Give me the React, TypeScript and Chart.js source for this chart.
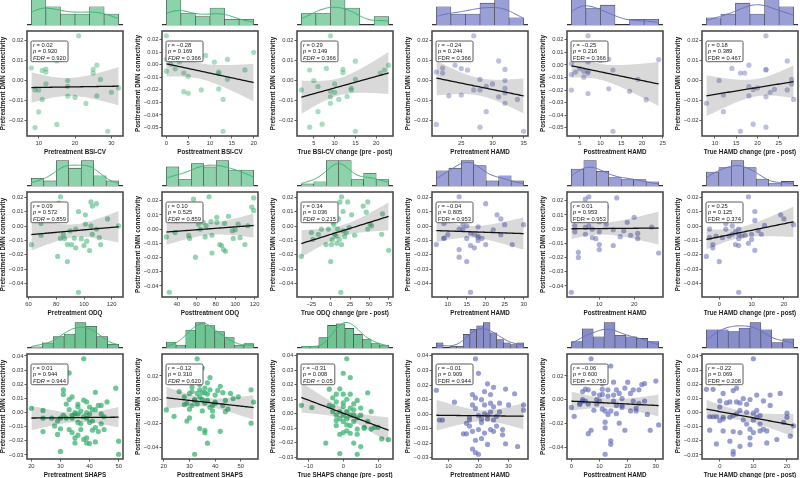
import React, { useEffect, useRef } from "react";
import { Chart, registerables } from "chart.js";

Chart.register(...registerables);

const FONT = '"Liberation Sans", Arial, Helvetica, sans-serif';
Chart.defaults.font.family = FONT;

// ---------- BSI-CV cohort ----------
const bsiPreX = [21, 8, 11, 12, 12, 15, 26, 25, 25, 27, 18, 18, 18, 12, 9, 10, 11, 20, 23, 10, 26, 30, 32, 9, 15, 29];
const bsiPreY = [0.0222, 0.0062, 0.005, 0.0057, 0.0042, 0.0097, 0.0076, 0.0055, 0.0037, 0.0005, 0.0, -0.0029, -0.0077, -0.0017, -0.0047, -0.0047, -0.0094, -0.0084, -0.0114, -0.0156, -0.0076, -0.0059, -0.0037, -0.0234, -0.0218, -0.0252];
const bsiPreHist = [7, 5, 3, 3, 5, 3];

const bsiPostX = [0, 0, 1, 2, 3, 4, 5, 4, 5, 8, 11, 12, 12, 12, 13, 13, 14, 14, 18, 20, 0, 1, 2, 3, 7, 9];
const bsiPostY = [0.0232, -0.0051, 0.0005, -0.0032, 0.0024, -0.0065, -0.0092, -0.0214, -0.0227, -0.02, 0.0022, -0.0057, -0.007, -0.0192, -0.0276, -0.053, 0.0043, -0.0116, -0.0041, 0.01, 0.0045, 0.009, 0.013, 0.006, 0.011, 0.0075];
const bsiPostHist = [9, 4, 3, 6, 2, 2];

const bsiChangeX = [9, 2, 4, 4, 5, 6, 6, 7, 8, 9, 9, 9, 10, 10, 11, 12, 12, 13, 14, 15, 15, 15, 21, 22, 23, 14];
const bsiChangeY = [0.0222, -0.0047, 0.0052, -0.0232, 0.0, -0.003, -0.0155, -0.0217, 0.006, -0.0054, -0.0081, -0.0113, -0.0017, -0.0059, -0.0094, 0.0055, 0.0039, -0.0079, -0.0039, 0.0096, 0.0005, -0.0252, 0.0037, 0.0052, 0.0076, -0.0047];
const bsiChangeHist = [4, 4, 9, 6, 0, 3];

const hamdBsiPreX = [27, 21, 21, 22, 22, 23, 24, 25, 25, 26, 27, 28, 28, 28, 29, 29, 30, 31, 31, 32, 32, 32, 32, 32, 34, 35];
const hamdBsiPreY = [0.0222, 0.0042, -0.0218, 0.0062, 0.0037, -0.0076, 0.0076, 0.0059, -0.0072, 0.0052, -0.0047, 0.0005, -0.0047, -0.0232, -0.0029, -0.0155, -0.0017, 0.0097, -0.0081, 0.0055, 0.0, -0.0039, -0.0062, -0.0113, -0.0094, -0.0252];
const hamdBsiPreHist = [5, 3, 3, 6, 7, 2];

const hamdBsiPostX = [7, 3, 3, 3, 4, 5, 6, 6, 7, 7, 7, 7, 10, 11, 12, 13, 13, 17, 19, 21, 24, 4, 6, 8, 12, 10];
const hamdBsiPostY = [0.0232, 0.0011, -0.0076, -0.02, -0.0057, -0.003, -0.0051, -0.0097, 0.0024, -0.005, -0.0065, -0.0227, 0.0095, 0.013, -0.019, -0.004, -0.0527, -0.021, -0.0114, -0.0276, 0.0043, 0.0065, 0.012, 0.009, 0.0045, 0.0035];
const hamdBsiPostHist = [9, 6, 7, 0, 2, 2];

const hamdBsiChangeX = [8, 11, 12, 12, 14, 16, 17, 16, 18, 18, 18, 19, 19, 20, 22, 22, 22, 22, 22, 23, 27, 27, 28, 28, 28.5, 24];
const hamdBsiChangeY = [-0.0113, 0.0, -0.0072, -0.0155, 0.006, 0.0037, 0.0037, -0.0252, 0.0076, -0.003, -0.0076, -0.0045, -0.0217, -0.0037, 0.0222, 0.0055, 0.0052, -0.0081, -0.0232, -0.0059, 0.0097, -0.0047, 0.0005, -0.0017, -0.0094, -0.0044];
const hamdBsiChangeHist = [2, 3, 6, 3, 7, 5];

// ---------- ODQ cohort ----------
const odqPreX = [62, 69, 69, 81, 83, 83, 85, 86, 88, 88, 90, 91, 94, 94, 96, 96, 98, 100, 101, 101, 104, 105, 105, 106, 106, 109, 109, 111, 112, 117, 125, 74, 77, 82, 84, 86, 93, 102];
const odqPreY = [-0.0129, 0.0019, -0.0064, -0.0212, 0.0205, -0.0086, -0.0057, -0.0086, -0.0248, -0.0129, -0.0033, -0.0129, -0.0021, -0.0152, 0.0102, -0.0462, -0.0088, -0.0136, 0.0079, 0.0014, -0.0171, 0.0169, 0.0002, -0.0057, 0.014, 0.0157, -0.0021, -0.0081, -0.0129, 0.005, 0.0002, 0.009, 0.012, 0.016, 0.006, 0.011, -0.0085, -0.0105];
const odqPreHist = [3, 2, 10, 7, 10, 4, 2];

const odqPostX = [29, 32, 38, 52, 53, 57, 59, 62, 64, 67, 69, 70, 73, 75, 76, 76, 81, 81, 84, 86, 88, 90, 89, 93, 97, 100, 105, 110, 113, 117, 119, 119, 33, 36, 40, 58, 61, 98, 103];
const odqPostY = [-0.0055, -0.0444, -0.0024, -0.0043, -0.0065, 0.0211, -0.0197, 0.0036, 0.0, 0.0048, -0.0055, 0.0024, 0.0228, 0.0053, -0.0043, -0.0168, 0.0048, 0.0084, -0.0108, -0.0115, -0.0144, -0.0156, 0.0041, 0.0091, -0.0012, -0.0005, -0.006, -0.0108, 0.0024, 0.0156, 0.022, 0.0132, 0.009, 0.015, 0.006, 0.011, 0.017, -0.0065, 0.0035];
const odqPostHist = [6, 2, 7, 6, 8, 5, 5];

const odqChangeX = [-38, -25, -23, -16, -12, -6, -3, 0, 1, 3, 5, 7, 9, 11, 12, 13, 14, 14, 16, 16, 18, 22, 27, 31, 42, 46, 48, 48, 51, 53, 66, 67, 75, 2, 4, 8, 10, 20, 24];
const odqChangeY = [-0.0212, -0.0045, -0.0093, -0.0057, -0.0021, -0.0129, -0.0021, -0.0248, -0.0129, 0.0026, -0.0057, -0.0069, -0.0021, -0.0093, 0.0169, -0.0462, 0.0205, -0.0129, 0.0102, -0.0033, -0.0074, 0.0169, 0.0079, -0.0064, 0.014, 0.0098, 0.0169, -0.0021, 0.0014, 0.0002, -0.0057, 0.0086, -0.0169, -0.0095, 0.001, -0.012, 0.005, -0.0045, -0.001];
const odqChangeHist = [1, 2, 12, 12, 3, 6, 3];

const hamdOdqPreX = [7, 9, 9, 9, 13, 13, 13, 13, 14, 14, 15, 15, 15, 16, 16, 16, 17, 17, 18, 18, 18, 19, 20, 20, 22, 23, 24, 27, 30, 8, 11, 12, 12, 14, 16, 18, 24, 25, 10];
const hamdOdqPreY = [-0.0129, 0.0019, -0.0086, -0.0083, 0.0205, -0.0021, -0.0164, -0.0217, -0.0021, 0.0014, 0.0002, -0.0086, -0.0248, -0.005, -0.0136, -0.0462, -0.0057, -0.0152, -0.0069, -0.0005, -0.0081, -0.0086, 0.0157, -0.0129, -0.0026, 0.0079, 0.005, -0.0129, 0.001, 0.01, 0.012, 0.006, 0.0155, 0.009, 0.004, -0.01, -0.006, 0.001, -0.006];
const hamdOdqPreHist = [6, 7, 10, 8, 2, 4, 2];

const hamdOdqPostX = [2, 3, 3, 4, 4, 6, 6, 6, 7, 7, 8, 8, 9, 10, 10, 10, 11, 12, 14, 14, 15, 16, 17, 18, 19, 20, 21, 27, 3, 4, 5, 6, 7, 8, 9, 10, 12, 21, 25];
const hamdOdqPostY = [-0.0444, 0.0024, -0.0019, -0.0163, -0.0199, 0.0012, -0.0036, 0.0211, 0.0024, 0.0228, -0.006, 0.0, -0.0067, -0.0019, -0.0108, -0.0144, 0.0084, 0.0156, -0.0005, -0.0115, 0.022, -0.0053, -0.0012, 0.0048, -0.0043, 0.0084, -0.0067, -0.0168, 0.008, 0.012, 0.0065, 0.0095, 0.0135, 0.0065, 0.017, 0.0053, 0.0035, -0.003, 0.0015];
const hamdOdqPostHist = [8, 12, 7, 4, 3, 3, 2];

const hamdOdqChangeX = [-4, -3, -3, -2, -2, -1, 0, 1, 2, 2, 3, 4, 4, 5, 5, 6, 6, 6, 6, 6, 6, 7, 8, 9, 10, 10, 11, 11, 13, 19, 20, 23, 0, 1, 3, 9, 11, 12, 14];
const hamdOdqChangeY = [-0.0212, -0.0081, -0.0021, -0.0129, -0.0152, -0.0069, -0.0248, -0.0081, -0.0021, 0.0019, -0.0069, -0.0057, 0.0002, -0.004, -0.0129, -0.0021, -0.0057, -0.0088, -0.0136, -0.0462, 0.0098, -0.0069, -0.0064, 0.0205, -0.0093, -0.0057, 0.0102, -0.0169, -0.0057, 0.0079, 0.005, 0.001, 0.009, 0.014, 0.006, -0.012, 0.004, -0.003, 0.0005];
const hamdOdqChangeHist = [6, 8, 11, 8, 3, 1, 2];

// ---------- SHAPS cohort ----------
const shapsPreX = [20, 24, 24, 24, 27, 30, 30, 31, 31, 32, 32, 33, 33, 33, 33, 34, 34, 34, 34, 35, 35, 35, 35, 36, 36, 36, 36, 36, 37, 37, 37, 38, 38, 38, 38, 39, 39, 39, 39, 39, 40, 40, 40, 40, 41, 41, 41, 42, 42, 42, 42, 43, 43, 44, 44, 44, 45, 45, 46, 49, 50, 50, 28, 29, 29, 30, 31];
const shapsPreY = [0.003, 0.0015, -0.004, -0.0135, -0.004, -0.0275, -0.004, 0.0128, 0.016, -0.004, 0.006, 0.028, 0.0092, -0.012, 0.002, 0.011, -0.004, -0.0142, -0.002, -0.0215, -0.018, -0.001, 0.0, -0.007, 0.0058, -0.001, 0.004, -0.016, -0.012, -0.008, 0.001, -0.019, 0.038, 0.0087, -0.003, -0.004, 0.0075, -0.0215, -0.018, 0.0, 0.0039, -0.001, -0.007, -0.022, -0.0125, -0.006, 0.002, -0.0106, 0.002, 0.0143, -0.0208, -0.0135, 0.005, -0.001, 0.005, -0.008, -0.012, -0.003, 0.0075, 0.0172, -0.0203, -0.0295, -0.0095, -0.006, -0.0155, -0.0115, -0.002];
const shapsPreHist = [1, 4, 9, 11, 20, 17, 9, 3];

const shapsPostX = [21, 24, 26, 28, 28, 29, 29, 30, 30, 30, 31, 31, 31, 32, 32, 32, 33, 33, 33, 34, 34, 34, 34, 35, 35, 35, 35, 36, 36, 36, 36, 36, 37, 37, 37, 37, 38, 38, 38, 39, 39, 39, 40, 40, 40, 41, 42, 42, 43, 43, 44, 44, 45, 46, 47, 49, 54, 54, 55];
const shapsPostY = [-0.0086, -0.014, 0.0068, -0.0041, 0.0024, -0.018, -0.003, -0.008, 0.0053, -0.0154, -0.005, 0.0107, 0.0068, -0.0006, 0.0, -0.046, 0.0345, 0.0053, -0.0036, 0.0127, -0.0243, 0.0024, 0.0083, 0.0267, 0.0059, 0.0, -0.0095, 0.0098, -0.0279, -0.0258, 0.0059, -0.003, -0.0367, 0.0142, -0.0006, 0.0047, -0.0065, 0.0187, 0.0083, -0.0095, -0.005, -0.014, -0.003, -0.002, 0.0039, 0.0077, -0.0267, 0.0113, 0.0059, -0.005, -0.0006, -0.0101, -0.008, 0.0053, 0.0009, 0.0024, 0.0083, -0.0198, -0.002];
const shapsPostHist = [4, 2, 12, 17, 15, 11, 7, 2, 3];

const shapsChangeX = [-12, -9, -5, -4, -4, -3, -3, -3, -2, -2, -2, -2, -2, -1, -1, -1, -1, -1, 0, 0, 0, 0, 0, 0, 0, 1, 1, 1, 1, 1, 1, 2, 2, 2, 2, 2, 2, 3, 3, 3, 3, 3, 4, 4, 4, 4, 4, 5, 5, 5, 6, 6, 7, 7, 8, 8, 9, 10, 11, 13];
const shapsChangeY = [0.0058, 0.0043, -0.0203, 0.017, 0.0058, 0.011, 0.0015, 0.005, 0.0135, -0.001, -0.0046, 0.0082, -0.0082, 0.0015, -0.0034, 0.0172, -0.0142, -0.0275, 0.0135, 0.005, -0.013, -0.001, -0.0053, 0.028, 0.0075, -0.0077, 0.0015, 0.038, -0.0034, 0.01, -0.0118, 0.025, -0.001, 0.0135, 0.0039, -0.0082, -0.0135, -0.001, 0.0068, -0.0053, 0.0027, -0.0203, -0.0029, 0.0092, -0.028, -0.0106, -0.0142, 0.0039, -0.001, -0.0227, -0.0101, -0.0094, 0.0145, -0.0053, 0.0015, -0.0106, -0.0094, -0.0094, -0.0174, -0.0178];
const shapsChangeHist = [1, 1, 7, 15, 16, 13, 9, 6, 3, 2];

const hamdShapsPreX = [6, 7, 8, 12, 15, 16, 16, 17, 17, 17, 18, 18, 18, 18, 19, 19, 19, 19, 19, 20, 20, 20, 20, 21, 21, 21, 21, 22, 22, 22, 22, 23, 23, 23, 23, 24, 24, 24, 24, 25, 25, 25, 25, 26, 26, 27, 27, 28, 28, 29, 29, 30, 32, 33, 35, 35];
const hamdShapsPreY = [0.0164, -0.004, -0.004, 0.0082, -0.0135, -0.0135, -0.0063, -0.004, -0.0022, -0.0082, -0.0118, 0.0135, 0.0063, -0.0239, 0.0111, 0.038, -0.0179, 0.0039, -0.0263, 0.028, -0.0275, -0.001, -0.0106, -0.0034, 0.0099, -0.0167, -0.0058, 0.0002, -0.013, 0.0155, 0.0063, -0.001, 0.0208, -0.0208, -0.0034, 0.0075, -0.0106, 0.0015, 0.0135, -0.004, 0.0184, 0.005, -0.0118, -0.0082, -0.0015, 0.0015, 0.0075, -0.0106, -0.0142, 0.0172, -0.0203, 0.0063, 0.014, -0.0222, 0.0063, 0.0027];
const hamdShapsPreHist = [3, 0, 1, 1, 8, 11, 13, 15, 9, 5, 3, 2, 3];

const hamdShapsPostX = [0, 1, 3, 3, 4, 4, 4, 5, 5, 6, 6, 6, 7, 7, 8, 8, 9, 9, 10, 10, 10, 11, 11, 11, 11, 12, 12, 12, 12, 13, 13, 13, 14, 14, 14, 14, 15, 15, 15, 16, 16, 16, 17, 17, 18, 18, 18, 19, 19, 20, 21, 21, 22, 22, 23, 23, 24, 24, 25, 26, 26, 27, 28, 30, 31];
const hamdShapsPostY = [-0.0065, -0.014, -0.003, -0.004, 0.0068, -0.0012, 0.0, 0.0089, -0.0012, -0.0036, -0.0287, 0.0083, -0.0258, 0.0345, -0.0089, 0.0053, -0.0036, 0.0, 0.0039, 0.0207, -0.0012, -0.008, 0.0089, 0.0136, 0.0044, -0.0095, -0.046, -0.019, -0.0237, -0.0124, 0.003, 0.0083, -0.0347, -0.0095, 0.0284, -0.0376, -0.0012, 0.0039, 0.0148, -0.005, 0.0083, -0.0118, 0.0053, -0.0198, -0.0065, -0.005, 0.0009, -0.0258, 0.0098, 0.0148, -0.0095, 0.0053, 0.0083, -0.0012, -0.0071, -0.0095, 0.0083, -0.003, 0.0127, 0.0136, -0.0012, -0.0124, -0.0258, 0.0157, -0.0213];
const hamdShapsPostHist = [4, 12, 7, 16, 8, 7, 6, 4];

const hamdShapsChangeX = [-4, -3, -3, -2, -2, -1, -1, 0, 0, 0, 0, 1, 1, 1, 1, 2, 3, 3, 3, 4, 4, 4, 4, 4, 5, 5, 5, 6, 6, 6, 6, 7, 7, 8, 8, 8, 9, 9, 9, 9, 10, 10, 10, 10, 11, 11, 11, 12, 12, 12, 13, 13, 14, 14, 15, 15, 17, 18, 19, 20, 20, 21, 22];
const hamdShapsChangeY = [0.0164, -0.0125, -0.003, 0.0164, -0.003, -0.0222, -0.003, 0.0082, 0.0208, -0.0058, 0.0039, 0.0135, -0.0034, -0.0046, -0.013, 0.0068, -0.0034, -0.0203, 0.0075, 0.0155, -0.0275, -0.0295, -0.0135, -0.0022, 0.0075, -0.001, 0.0172, 0.0068, -0.0142, -0.0239, 0.0015, 0.0099, -0.0053, 0.0002, 0.0058, -0.0082, -0.0179, -0.0118, -0.0227, 0.0092, -0.0053, -0.0005, 0.038, -0.0142, -0.0034, 0.0015, 0.0123, -0.013, -0.0022, -0.0082, 0.0082, -0.0118, -0.013, -0.0215, 0.005, 0.0123, -0.0191, 0.0135, -0.007, -0.0005, -0.0034, -0.0167, -0.0094];
const hamdShapsChangeHist = [10, 10, 9, 11, 14, 10, 3, 5];

// ---------- labels and statistics ----------
const xTitles = [
  "Pretreatment BSI-CV", "Posttreatment BSI-CV", "True BSI-CV change (pre - post)",
  "Pretreatment HAMD", "Posttreatment HAMD", "True HAMD change (pre - post)",
  "Pretreatment ODQ", "Posttreatment ODQ", "True ODQ change (pre - post)",
  "Pretreatment HAMD", "Posttreatment HAMD", "True HAMD change (pre - post)",
  "Pretreatment SHAPS", "Posttreatment SHAPS", "True SHAPS change (pre - post)",
  "Pretreatment HAMD", "Posttreatment HAMD", "True HAMD change (pre - post)",
];
const PRE = "Pretreatment DMN connectivity";
const POST = "Posttreatment DMN connectivity";
const yTitles = [PRE, POST, PRE, PRE, POST, PRE, PRE, POST, PRE, PRE, POST, PRE, PRE, POST, PRE, PRE, POST, PRE];
const statR = ["0.02", "-0.28", "0.29", "-0.24", "-0.25", "0.18", "0.09", "0.10", "0.34", "-0.04", "0.01", "0.25", "0.01", "-0.12", "-0.31", "-0.01", "-0.06", "-0.22"];
const statP = ["0.920", "0.169", "0.149", "0.244", "0.216", "0.389", "0.572", "0.525", "0.036", "0.805", "0.953", "0.125", "0.944", "0.310", "0.008", "0.909", "0.600", "0.069"];
const statFdr = ["0.920", "0.366", "0.366", "0.366", "0.366", "0.467", "0.859", "0.859", "0.215", "0.953", "0.953", "0.374", "0.944", "0.620", "< 0.05", "0.944", "0.750", "0.208"];
const xTickSteps = [10, 5, 5, 5, 5, 5, 20, 20, 25, 5, 10, 10, 10, 10, 10, 10, 10, 10];
const yTickSteps = [0.01, 0.01, 0.01, 0.01, 0.01, 0.01, 0.01, 0.01, 0.01, 0.01, 0.01, 0.01, 0.01, 0.02, 0.01, 0.01, 0.02, 0.01];

const panelData: [number[], number[], number[]][] = [
  [bsiPreX, bsiPreY, bsiPreHist], [bsiPostX, bsiPostY, bsiPostHist], [bsiChangeX, bsiChangeY, bsiChangeHist],
  [hamdBsiPreX, hamdBsiPreY, hamdBsiPreHist], [hamdBsiPostX, hamdBsiPostY, hamdBsiPostHist], [hamdBsiChangeX, hamdBsiChangeY, hamdBsiChangeHist],
  [odqPreX, odqPreY, odqPreHist], [odqPostX, odqPostY, odqPostHist], [odqChangeX, odqChangeY, odqChangeHist],
  [hamdOdqPreX, hamdOdqPreY, hamdOdqPreHist], [hamdOdqPostX, hamdOdqPostY, hamdOdqPostHist], [hamdOdqChangeX, hamdOdqChangeY, hamdOdqChangeHist],
  [shapsPreX, shapsPreY, shapsPreHist], [shapsPostX, shapsPostY, shapsPostHist], [shapsChangeX, shapsChangeY, shapsChangeHist],
  [hamdShapsPreX, hamdShapsPreY, hamdShapsPreHist], [hamdShapsPostX, hamdShapsPostY, hamdShapsPostHist], [hamdShapsChangeX, hamdShapsChangeY, hamdShapsChangeHist],
];

// ---------- layout ----------
const BOX_LEFT = [27, 162, 297, 432, 567, 702];
const BOX_TOP = [31, 192, 354];
const BOX_W = 96;
const BOX_H = 105;
const AXIS_W = 27;
const X_AXIS_H = 22;
const SC_W = 135;
const SC_H = 4 + BOX_H + X_AXIS_H;
const HIST_H = 28;

const GREEN = [60, 179, 113];
const PURPLE = [104, 112, 188];
const POINT_ALPHA_GREEN = [0.45, 0.55, 0.75];
const POINT_ALPHA_PURPLE = [0.45, 0.55, 0.68];
const HIST_FILL_GREEN = ["rgb(140,210,170)", "rgb(140,210,170)", "rgb(112,196,148)"];
const HIST_FILL_PURPLE = ["rgb(154,160,213)", "rgb(154,160,213)", "rgb(136,142,202)"];

const mean = (a: number[]) => a.reduce((s, v) => s + v, 0) / a.length;
const sdev = (a: number[]) => {
  const m = mean(a);
  return Math.sqrt(a.reduce((s, v) => s + (v - m) ** 2, 0) / (a.length - 1));
};

// Least-squares fit expressed through the reported Pearson r:
// slope = r * sy / sx, through the means, with a 95% confidence band.
function fitFromR(xs: number[], ys: number[], r: number) {
  const n = xs.length;
  const mx = mean(xs);
  const my = mean(ys);
  const sx = sdev(xs);
  const sy = sdev(ys);
  const b = (r * sy) / sx;
  const a = my - b * mx;
  const sxx = (n - 1) * sx * sx;
  const s = sy * Math.sqrt(1 - r * r) * Math.sqrt((n - 1) / (n - 2));
  const t = 1.96 + 2.4 / (n - 2);
  const lo = Math.min(...xs);
  const hi = Math.max(...xs);
  const line: { x: number; y: number }[] = [];
  const upper: { x: number; y: number }[] = [];
  const lower: { x: number; y: number }[] = [];
  for (let k = 0; k <= 60; k++) {
    const x = lo + ((hi - lo) * k) / 60;
    const yh = a + b * x;
    const se = s * Math.sqrt(1 / n + (x - mx) ** 2 / sxx);
    line.push({ x, y: yh });
    upper.push({ x, y: yh + t * se });
    lower.push({ x, y: yh - t * se });
  }
  return { line, upper, lower };
}

function kdeCurve(xs: number[], lo: number, hi: number, scale: number) {
  const n = xs.length;
  const bw = sdev(xs) * Math.pow(n, -0.2);
  const pts: { x: number; y: number }[] = [];
  for (let k = 0; k <= 80; k++) {
    const x = lo + ((hi - lo) * k) / 80;
    let d = 0;
    for (const v of xs) d += Math.exp(-0.5 * ((x - v) / bw) ** 2);
    d /= n * bw * Math.sqrt(2 * Math.PI);
    pts.push({ x, y: d * scale });
  }
  return pts;
}

function stepTicks(min: number, max: number, step: number) {
  const out: { value: number }[] = [];
  const k0 = Math.ceil(min / step - 1e-9);
  const k1 = Math.floor(max / step + 1e-9);
  for (let k = k0; k <= k1; k++) out.push({ value: +(k * step).toFixed(6) });
  return out;
}

const minus = (s: string) => s.replace("-", "\u2212");
const fmtY = (v: number) => {
  const n = Math.abs(v) < 1e-9 ? 0 : v;
  const s = Math.abs(n).toFixed(2);
  return n < 0 ? "\u2212" + s : s;
};
const fmtX = (v: number) => (v < 0 ? "\u2212" + Math.abs(v) : String(v));

const framePlugin = {
  id: "frame",
  afterDatasetsDraw(chart: any) {
    const { ctx, chartArea: a } = chart;
    ctx.save();
    ctx.strokeStyle = "#4d4d4d";
    ctx.lineWidth = 1.6;
    ctx.strokeRect(a.left, a.top, a.right - a.left, a.bottom - a.top);
    ctx.restore();
  },
};

type Seg = { t: string; it: boolean };

function statBox(lines: Seg[][]) {
  return {
    id: "statBox",
    afterDraw(chart: any) {
      const { ctx, chartArea: a } = chart;
      const fs = 5.8;
      const lh = 6.5;
      const fontOf = (it: boolean) => `${it ? "italic " : ""}${fs}px ${FONT}`;
      ctx.save();
      let maxW = 0;
      for (const line of lines) {
        let w = 0;
        for (const seg of line) {
          ctx.font = fontOf(seg.it);
          w += ctx.measureText(seg.t).width;
        }
        maxW = Math.max(maxW, w);
      }
      const x0 = a.left + 4;
      const y0 = a.top + 10;
      const w = maxW + 4;
      const h = lh * 3 + 1.2;
      const r = 1.6;
      ctx.beginPath();
      ctx.moveTo(x0 + r, y0);
      ctx.lineTo(x0 + w - r, y0);
      ctx.quadraticCurveTo(x0 + w, y0, x0 + w, y0 + r);
      ctx.lineTo(x0 + w, y0 + h - r);
      ctx.quadraticCurveTo(x0 + w, y0 + h, x0 + w - r, y0 + h);
      ctx.lineTo(x0 + r, y0 + h);
      ctx.quadraticCurveTo(x0, y0 + h, x0, y0 + h - r);
      ctx.lineTo(x0, y0 + r);
      ctx.quadraticCurveTo(x0, y0, x0 + r, y0);
      ctx.closePath();
      ctx.fillStyle = "#ffffff";
      ctx.fill();
      ctx.strokeStyle = "#333333";
      ctx.lineWidth = 0.8;
      ctx.stroke();
      ctx.fillStyle = "#222222";
      ctx.textBaseline = "middle";
      ctx.textAlign = "left";
      lines.forEach((line, i) => {
        let x = x0 + 2;
        const y = y0 + 3.9 + lh * i;
        for (const seg of line) {
          ctx.font = fontOf(seg.it);
          ctx.fillText(seg.t, x, y);
          x += ctx.measureText(seg.t).width;
        }
      });
      ctx.restore();
    },
  };
}

function Panel({ idx }: { idx: number }) {
  const histRef = useRef<HTMLCanvasElement>(null);
  const scatRef = useRef<HTMLCanvasElement>(null);
  const row = Math.floor(idx / 6);
  const col = idx % 6;
  const left = BOX_LEFT[col];
  const top = BOX_TOP[row];

  useEffect(() => {
    const [xs, ys, hist] = panelData[idx];
    const isGreen = col < 3;
    const rgb = (isGreen ? GREEN : PURPLE).join(",");
    const alpha = isGreen ? POINT_ALPHA_GREEN[row] : POINT_ALPHA_PURPLE[row];
    const xLo = Math.min(...xs);
    const xHi = Math.max(...xs);
    const yLo = Math.min(...ys);
    const yHi = Math.max(...ys);
    const xMin = xLo - (xHi - xLo) * 0.05;
    const xMax = xHi + (xHi - xLo) * 0.05;
    const yMin = yLo - (yHi - yLo) * 0.05;
    const yMax = yHi + (yHi - yLo) * 0.05;

    // marginal histogram with density curve
    const binW = (xHi - xLo) / hist.length;
    const bars = hist.map((c, i) => ({ x: xLo + (i + 0.5) * binW, y: c }));
    const total = hist.reduce((s, v) => s + v, 0);
    const kde = kdeCurve(xs, xLo, xHi, total * binW);
    const histTop = Math.max(Math.max(...hist), ...kde.map((p) => p.y)) * 1.02;

    const histChart = new Chart(histRef.current as HTMLCanvasElement, {
      type: "bar",
      data: {
        datasets: [
          {
            type: "line",
            data: kde,
            borderColor: `rgb(${rgb})`,
            borderWidth: 1,
            pointRadius: 0,
            fill: false,
            order: 0,
          } as any,
          {
            type: "bar",
            data: bars,
            backgroundColor: isGreen ? HIST_FILL_GREEN[row] : HIST_FILL_PURPLE[row],
            borderColor: "#3d3d3d",
            borderWidth: 0.6,
            borderSkipped: "start",
            barPercentage: 1,
            categoryPercentage: 1,
            grouped: false,
            order: 1,
          } as any,
        ],
      },
      options: {
        responsive: false,
        animation: false,
        events: [],
        layout: { padding: 0 },
        plugins: { legend: { display: false }, tooltip: { enabled: false } },
        scales: {
          x: {
            type: "linear",
            min: xMin,
            max: xMax,
            offset: false,
            ticks: { display: false },
            grid: { display: false, offset: false },
            border: { display: true, color: "#333333", width: 1.2 },
            afterFit: (s: any) => {
              s.height = 2;
              s.paddingLeft = 0;
              s.paddingRight = 0;
            },
          },
          y: { display: false, min: 0, max: histTop },
        },
      } as any,
    });

    // scatter with regression fit
    const fit = fitFromR(xs, ys, parseFloat(statR[idx]));
    const points = xs.map((x, i) => ({ x, y: ys[i] }));
    const fdr = statFdr[idx];
    const lines: Seg[][] = [
      [{ t: "r", it: true }, { t: " = " + minus(statR[idx]), it: false }],
      [{ t: "p", it: true }, { t: " = " + statP[idx], it: false }],
      [{ t: "FDR", it: isGreen }, { t: fdr.startsWith("<") ? " " + fdr : " = " + fdr, it: false }],
    ];
    const tickFont = { size: 5.8, family: FONT };
    const titleFont = { size: 6.3, weight: "bold", family: FONT, lineHeight: 1 };
    const gridOpts = {
      display: true,
      drawOnChartArea: false,
      drawTicks: true,
      tickLength: 2.5,
      tickWidth: 0.8,
      tickColor: "#333333",
    };

    const scatChart = new Chart(scatRef.current as HTMLCanvasElement, {
      type: "line",
      data: {
        datasets: [
          { data: fit.line, borderColor: "#111111", borderWidth: 1.3, pointRadius: 0, fill: false, order: 0 },
          { data: fit.lower, borderColor: "rgba(0,0,0,0)", borderWidth: 0, pointRadius: 0, fill: false, order: 1 },
          {
            data: fit.upper,
            borderColor: "rgba(0,0,0,0)",
            borderWidth: 0,
            pointRadius: 0,
            fill: "-1",
            backgroundColor: "rgba(0,0,0,0.15)",
            order: 1,
          },
          {
            data: points,
            showLine: false,
            pointRadius: 2.6,
            pointBorderWidth: 0,
            pointBorderColor: "rgba(0,0,0,0)",
            pointBackgroundColor: `rgba(${rgb},${alpha})`,
            order: 2,
          },
        ],
      },
      options: {
        responsive: false,
        animation: false,
        events: [],
        layout: { padding: { left: 0, top: 4, right: SC_W - AXIS_W - BOX_W, bottom: 0 } },
        plugins: { legend: { display: false }, tooltip: { enabled: false } },
        scales: {
          x: {
            type: "linear",
            min: xMin,
            max: xMax,
            afterBuildTicks: (s: any) => {
              s.ticks = stepTicks(xMin, xMax, xTickSteps[idx]);
            },
            afterFit: (s: any) => {
              s.height = X_AXIS_H;
              s.paddingLeft = 0;
              s.paddingRight = 0;
            },
            ticks: {
              font: tickFont,
              color: "#333333",
              padding: 1,
              autoSkip: false,
              maxRotation: 0,
              callback: (v: any) => fmtX(Number(v)),
            },
            grid: gridOpts,
            border: { display: false },
            title: {
              display: true,
              text: xTitles[idx],
              font: titleFont,
              color: "#1a1a1a",
              padding: { top: 0, bottom: 2.2 },
            },
          },
          y: {
            type: "linear",
            min: yMin,
            max: yMax,
            afterBuildTicks: (s: any) => {
              s.ticks = stepTicks(yMin, yMax, yTickSteps[idx]);
            },
            afterFit: (s: any) => {
              s.width = AXIS_W;
              s.paddingTop = 0;
              s.paddingBottom = 0;
            },
            ticks: {
              font: tickFont,
              color: "#333333",
              padding: 1,
              autoSkip: false,
              callback: (v: any) => fmtY(Number(v)),
            },
            grid: gridOpts,
            border: { display: false },
            title: {
              display: true,
              text: yTitles[idx],
              font: titleFont,
              color: "#1a1a1a",
              padding: { top: 0, bottom: 0 },
            },
          },
        },
      } as any,
      plugins: [framePlugin, statBox(lines)],
    });

    return () => {
      histChart.destroy();
      scatChart.destroy();
    };
  }, [idx, row, col]);

  return (
    <>
      <canvas
        ref={histRef}
        width={BOX_W}
        height={HIST_H}
        style={{ position: "absolute", left, top: top - HIST_H - 4, width: BOX_W, height: HIST_H, display: "block" }}
      />
      <canvas
        ref={scatRef}
        width={SC_W}
        height={SC_H}
        style={{ position: "absolute", left: left - AXIS_W, top: top - 4, width: SC_W, height: SC_H, display: "block" }}
      />
    </>
  );
}

export default function App() {
  return (
    <div
      style={{
        position: "fixed",
        left: 0,
        top: 0,
        width: 800,
        height: 478,
        overflow: "hidden",
        background: "#ffffff",
      }}
    >
      {panelData.map((_, i) => (
        <Panel key={i} idx={i} />
      ))}
    </div>
  );
}
